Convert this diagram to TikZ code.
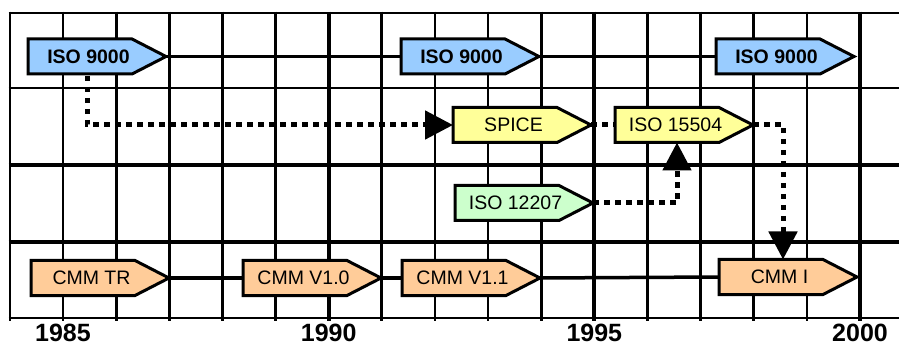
\documentclass[tikz,border=0pt]{standalone}
\usepackage{fontspec}
\setmainfont{Liberation Sans}
\usetikzlibrary{arrows.meta,calc}
\definecolor{isoblue}{HTML}{99CCFF}
\definecolor{isoyellow}{HTML}{FFFF99}
\definecolor{isogreen}{HTML}{CCFFCC}
\definecolor{cmmorange}{HTML}{FFCC99}
\tikzset{
  gridthin/.style={line width=2.7pt},
  gridthick/.style={line width=4pt},
  tagshape/.style={draw=black, line width=3pt, line join=miter},
  tagtext/.style={inner sep=0pt, outer sep=0pt, minimum width=121pt, minimum height=35pt,
    font=\fontsize{19.5}{20}\selectfont, anchor=west},
  boldtag/.style={font=\fontsize{19.5}{20}\selectfont\bfseries},
  plaintag/.style={},
  timeline/.style={line width=3.5pt},
  dotconn/.style={line width=5pt, dash pattern=on 5.5pt off 5.5pt},
  bigtip/.style={-{Triangle[length=28pt,width=28pt]}},
  yearlabel/.style={font=\fontsize{25}{26}\selectfont\bfseries, inner sep=0pt, anchor=base}
}
% #1 name, #2 x, #3 y, #4 fill, #5 text style, #6 text
\newcommand\tagbox[6]{%
  \filldraw[tagshape, fill=#4] (#2,#3) ++(0,-17.5) -- ++(104,0) -- ++(34,17.5)
     -- ++(-34,17.5) -- ++(-104,0) -- cycle;
  \node[tagtext, #5] (#1) at (#2,#3) {#6};
  \coordinate (#1-tip) at ($(#1.west)+(138pt,0)$);
}
\begin{document}
\begin{tikzpicture}[x=1pt, y=-1pt]
\useasboundingbox (0,0) rectangle (899,347);
% grid
\foreach \k in {0,1,2,3,4,5,7,8,9,10,12,13,14,15} {
  \pgfmathsetmacro\xx{9.9+53.13*\k}
  \draw[gridthin] (\xx,11.7) -- (\xx,321);
}
\foreach \k in {6,11,16} {
  \pgfmathsetmacro\xx{9.9+53.13*\k}
  \draw[gridthick] (\xx,11.7) -- (\xx,321);
}
\draw[gridthin] (8.6,13) -- (899,13);
\draw[gridthin] (8.6,88) -- (899,88);
\draw[gridthick] (8.6,165) -- (899,165);
\draw[gridthick] (8.6,242) -- (899,242);
\draw[gridthin] (8.6,318) -- (899,318);
% boxes
\tagbox{iso1}{28}{56.5}{isoblue}{boldtag}{ISO 9000}
\tagbox{iso2}{401}{56.5}{isoblue}{boldtag}{ISO 9000}
\tagbox{iso3}{716}{56.5}{isoblue}{boldtag}{ISO 9000}
\tagbox{spice}{453}{125}{isoyellow}{plaintag}{SPICE}
\tagbox{isoF}{615}{125}{isoyellow}{plaintag}{ISO 15504}
\tagbox{isoT}{455}{203}{isogreen}{plaintag}{ISO 12207}
\tagbox{cmmtr}{31}{278}{cmmorange}{plaintag}{CMM TR}
\tagbox{cmmA}{243}{278}{cmmorange}{plaintag}{CMM V1.0}
\tagbox{cmmB}{402}{278}{cmmorange}{plaintag}{CMM V1.1}
\tagbox{cmmi}{719}{277}{cmmorange}{plaintag}{CMM I}
% solid timelines
\draw[timeline] (iso1-tip) -- (iso2.west);
\draw[timeline] (iso2-tip) -- (iso3.west);
\draw[timeline] (cmmtr-tip) -- (cmmA.west);
\draw[timeline] (cmmA-tip) -- (cmmB.west);
\draw[timeline] (cmmB-tip) -- (cmmi.west);
% dotted links
\draw[dotconn, bigtip] ([xshift=59pt, yshift=-2pt]iso1.south west) |- (spice.west);
\draw[dotconn] (spice-tip) -- (isoF.west);
\draw[dotconn, bigtip] (isoF-tip) -| ([xshift=64pt]cmmi.north west);
\draw[dotconn, bigtip] (isoT-tip) -| ([xshift=62pt]isoF.south west);
% years
\node[yearlabel] (y1985) at (63,341) {1985};
\node[yearlabel] (y1990) at (328.7,341) {1990};
\node[yearlabel] (y1995) at (594.3,341) {1995};
\node[yearlabel] (y2000) at (860,341) {2000};
\end{tikzpicture}
\end{document}
